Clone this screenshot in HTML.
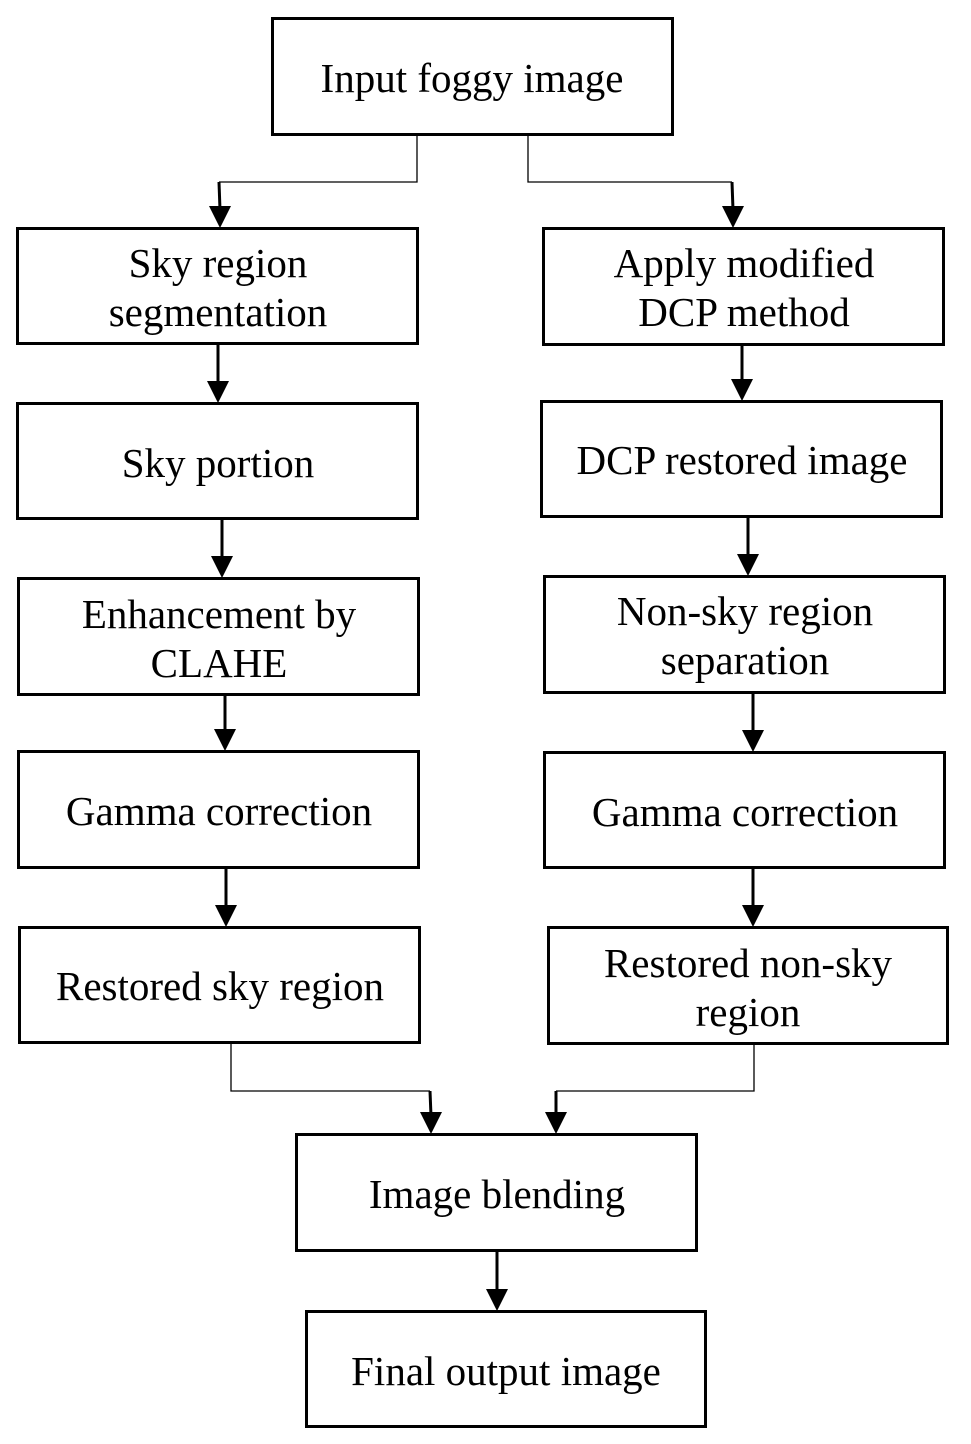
<!DOCTYPE html>
<html><head><meta charset="utf-8"><style>
html,body{margin:0;padding:0;background:#fff;}
svg{display:block;}
text{font-family:"Liberation Serif",serif;font-size:41px;fill:#000;text-anchor:middle;}
</style></head><body>
<svg width="971" height="1444" viewBox="0 0 971 1444" xmlns="http://www.w3.org/2000/svg">
<g fill="none" stroke="#000" stroke-width="3">
<rect x="272.5" y="18.5" width="400" height="116"/>
<rect x="17.5" y="228.5" width="400" height="115"/>
<rect x="543.5" y="228.5" width="400" height="116"/>
<rect x="17.5" y="403.5" width="400" height="115"/>
<rect x="541.5" y="401.5" width="400" height="115"/>
<rect x="18.5" y="578.5" width="400" height="116"/>
<rect x="544.5" y="576.5" width="400" height="116"/>
<rect x="18.5" y="751.5" width="400" height="116"/>
<rect x="544.5" y="752.5" width="400" height="115"/>
<rect x="19.5" y="927.5" width="400" height="115"/>
<rect x="548.5" y="927.5" width="399" height="116"/>
<rect x="296.5" y="1134.5" width="400" height="116"/>
<rect x="306.5" y="1311.5" width="399" height="115"/>
</g>
<g fill="none" stroke="#000" stroke-width="1.3">
<polyline points="417,135 417,182 219,182"/>
<polyline points="528,135 528,182 732,182"/>
<polyline points="231,1043 231,1091 430,1091"/>
<polyline points="754,1044 754,1091 556,1091"/>
</g>
<g stroke="#000" stroke-width="3">
<line x1="219" y1="182" x2="220" y2="210"/>
<line x1="732" y1="182" x2="733" y2="210"/>
<line x1="430" y1="1091" x2="431" y2="1116"/>
<line x1="556" y1="1091" x2="556" y2="1116"/>
<line x1="218" y1="344" x2="218" y2="385"/>
<line x1="742" y1="345" x2="742" y2="383"/>
<line x1="222" y1="519" x2="222" y2="560"/>
<line x1="748" y1="517" x2="748" y2="558"/>
<line x1="225" y1="695" x2="225" y2="733"/>
<line x1="753" y1="693" x2="753" y2="734"/>
<line x1="226" y1="868" x2="226" y2="909"/>
<line x1="753" y1="868" x2="753" y2="909"/>
<line x1="497" y1="1251" x2="497" y2="1293"/>
</g>
<g fill="#000">
<polygon points="209,206 231,206 220,228"/>
<polygon points="722,206 744,206 733,228"/>
<polygon points="420,1112 442,1112 431,1134"/>
<polygon points="545,1112 567,1112 556,1134"/>
<polygon points="207,381 229,381 218,403"/>
<polygon points="731,379 753,379 742,401"/>
<polygon points="211,556 233,556 222,578"/>
<polygon points="737,554 759,554 748,576"/>
<polygon points="214,729 236,729 225,751"/>
<polygon points="742,730 764,730 753,752"/>
<polygon points="215,905 237,905 226,927"/>
<polygon points="742,905 764,905 753,927"/>
<polygon points="486,1289 508,1289 497,1311"/>
</g>
<text x="472" y="92">Input foggy image</text>
<text x="218" y="277">Sky region</text>
<text x="218" y="326">segmentation</text>
<text x="744" y="277">Apply modified</text>
<text x="744" y="326">DCP method</text>
<text x="218" y="477">Sky portion</text>
<text x="742" y="474">DCP restored image</text>
<text x="219" y="628">Enhancement by</text>
<text x="219" y="677">CLAHE</text>
<text x="745" y="625">Non-sky region</text>
<text x="745" y="674">separation</text>
<text x="219" y="825">Gamma correction</text>
<text x="745" y="826">Gamma correction</text>
<text x="220" y="1000">Restored sky region</text>
<text x="748" y="977">Restored non-sky</text>
<text x="748" y="1026">region</text>
<text x="497" y="1208">Image blending</text>
<text x="506" y="1385">Final output image</text>
</svg>
</body></html>
